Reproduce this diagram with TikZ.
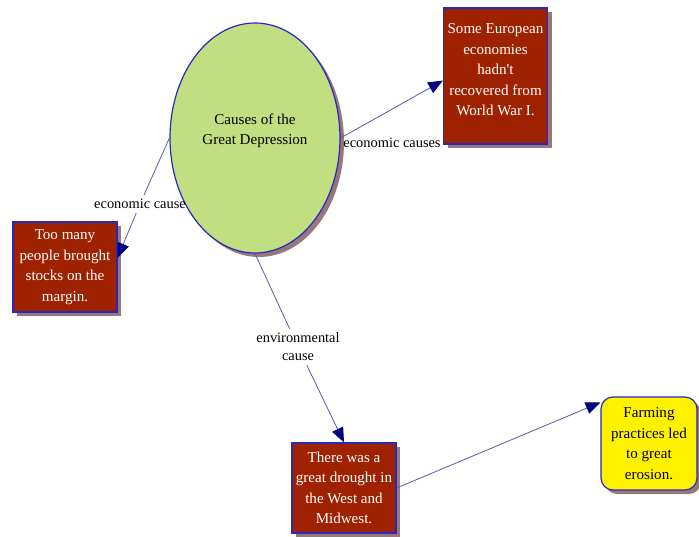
\documentclass[tikz,border=0pt]{standalone}
\usepackage{fontspec}
\setmainfont{Liberation Serif}
\usetikzlibrary{shapes.geometric,shadows,arrows.meta}
\definecolor{topicgreen}{RGB}{193,222,129}
\definecolor{causered}{RGB}{158,34,0}
\definecolor{edgeblue}{RGB}{40,40,190}
\definecolor{linkblue}{RGB}{90,90,170}
\definecolor{tipblue}{RGB}{0,0,130}
\definecolor{shadowbrown}{RGB}{150,120,124}
\tikzset{
  concept/.style={draw=edgeblue,line width=0.9pt,align=center,font=\fontsize{11.3}{15.4}\selectfont,
    drop shadow={fill=shadowbrown,opacity=1,shadow xshift=3pt,shadow yshift=-3pt}},
  topic/.style={concept,ellipse,fill=topicgreen,minimum width=127.5pt,minimum height=172.5pt,inner sep=0pt},
  causebox/.style={concept,rectangle,fill=causered,text=white,minimum width=78pt,minimum height=67.5pt,inner sep=1pt},
  effectbox/.style={concept,rectangle,rounded corners=9pt,fill=yellow,minimum width=72pt,minimum height=69.75pt,inner sep=1pt},
  linkphrase/.style={align=center,font=\fontsize{10.8}{13.5}\selectfont,inner sep=3pt},
  link/.style={draw=linkblue,line width=0.6pt},
  linkarrow/.style={link,-{Triangle[length=11pt,width=9pt,color=tipblue]}}
}
\begin{document}
\begin{tikzpicture}[x=0.75pt,y=-0.75pt]
\useasboundingbox (0,0) rectangle (699,536);
\node[topic] (gd) at (255,138) {Causes of the\\Great Depression\\[-2pt]};
\node[causebox,minimum height=102pt] (europe) at (495.5,76) {Some European\\economies\\hadn\textquotesingle t\\recovered from\\World War I.\\[-6pt]};
\node[causebox] (margin) at (65,267) {Too many\\people brought\\stocks on the\\margin.};
\node[causebox] (drought) at (344,488) {There was a\\great drought in\\the West and\\Midwest.};
\node[effectbox] (farm) at (649,443.5) {Farming\\practices led\\to great\\erosion.};
\node[linkphrase] (econA) at (392,143) {economic causes};
\node[linkphrase] (econB) at (140,204) {economic cause};
\node[linkphrase] (envir) at (298,347) {environmental\\cause};
\draw[linkarrow] (gd.east) -- (europe.185);
\draw[link] (gd.west) -- (econB);
\draw[linkarrow] (econB) -- (margin.10);
\draw[link] (gd.south) -- (envir);
\draw[linkarrow] (envir) -- (drought.north);
\draw[linkarrow] (drought.east) -- ([yshift=-4.5pt]farm.north west);
\end{tikzpicture}
\end{document}
